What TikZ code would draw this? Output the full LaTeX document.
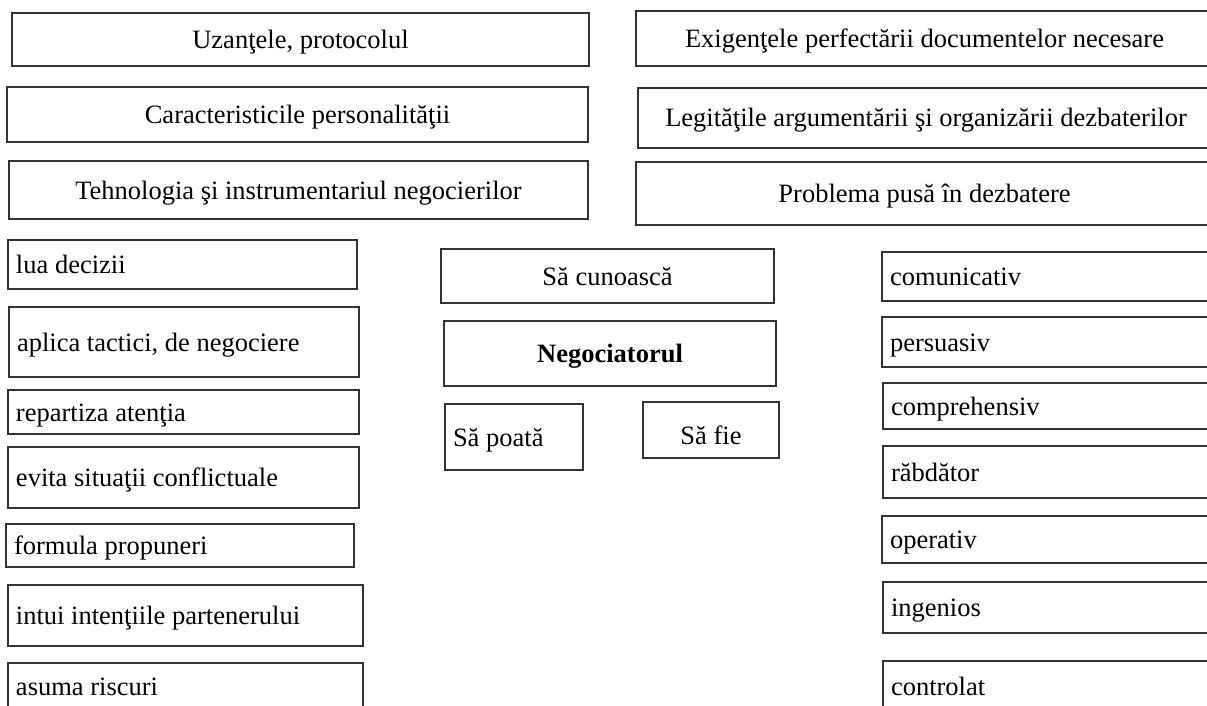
\documentclass[tikz,border=0pt]{standalone}
\usepackage{fontspec}
\setmainfont{Liberation Serif}
\newcommand\diagfont{\fontsize{26.5}{30}\selectfont}
\tikzset{
  box/.style={draw=black!80, line width=1.1pt, anchor=north west, inner sep=0pt, outer sep=0pt,
    font=\diagfont, text height=18pt, text depth=0pt},
  cbox/.style={box, align=center},
  lbox/.style={box, align=flush left, inner xsep=8pt},
}
\begin{document}
\begin{tikzpicture}[x=1pt, y=-1pt]
\useasboundingbox (0,0) rectangle (1207,706);
\clip (0,0) rectangle (1207,706);
% top left
\node[cbox, minimum width=577pt, minimum height=53pt] (t1) at (12,13) {Uzanţele, protocolul};
\node[cbox, minimum width=581pt, minimum height=55pt] (t2) at (7,87) {Caracteristicile personalităţii};
\node[cbox, minimum width=579pt, minimum height=58pt] (t3) at (9,161) {Tehnologia şi instrumentariul negocierilor};
% top right
\node[cbox, minimum width=577pt, minimum height=55pt] (r1) at (636,11) {Exigenţele perfectării documentelor necesare};
\node[cbox, minimum width=576pt, minimum height=60pt] (r2) at (638,88) {Legităţile argumentării şi organizării dezbaterilor};
\node[cbox, minimum width=577pt, minimum height=63pt] (r3) at (636,162) {Problema pusă în dezbatere};
% centre
\node[cbox, minimum width=333pt, minimum height=54pt] (c1) at (441,249) {Să cunoască};
\node[cbox, minimum width=332pt, minimum height=65pt] (c2) at (444,321) {\bfseries Negociatorul};
\node[lbox, text width=122pt, minimum height=66pt] (c3) at (445,404) {Să poată};
\node[cbox, minimum width=136pt, minimum height=56pt, text height=28pt] (c4) at (643,402) {Să fie};
% left column
\node[lbox, text width=333pt, minimum height=49pt] (l1) at (8,240) {lua decizii};
\node[lbox, text width=334pt, minimum height=70pt] (l2) at (9,307) {aplica tactici, de negociere};
\node[lbox, text width=335pt, minimum height=44pt] (l3) at (8,390) {repartiza atenţia};
\node[lbox, text width=335pt, minimum height=61pt] (l4) at (8,447) {evita situaţii conflictuale};
\node[lbox, text width=332pt, minimum height=43pt] (l5) at (6,524) {formula propuneri};
\node[lbox, text width=339pt, minimum height=61pt] (l6) at (8,585) {intui intenţiile partenerului};
\node[lbox, text width=339pt, minimum height=46pt] (l7) at (8,663) {asuma riscuri};
% right column
\node[lbox, text width=317pt, minimum height=49pt] (p1) at (882,252) {comunicativ};
\node[lbox, text width=317pt, minimum height=50pt] (p2) at (882,317) {persuasiv};
\node[lbox, text width=316pt, minimum height=46pt] (p3) at (883,383) {comprehensiv};
\node[lbox, text width=316pt, minimum height=52pt] (p4) at (883,446) {răbdător};
\node[lbox, text width=317pt, minimum height=47pt] (p5) at (882,516) {operativ};
\node[lbox, text width=316pt, minimum height=51pt] (p6) at (883,582) {ingenios};
\node[lbox, text width=316pt, minimum height=50pt] (p7) at (883,661) {controlat};
\end{tikzpicture}
\end{document}
